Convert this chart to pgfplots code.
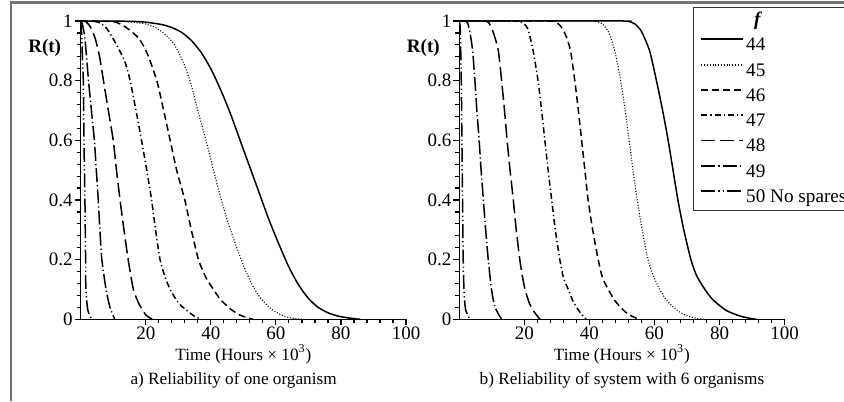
\documentclass[border=0pt]{standalone}
\usepackage{fontspec}
\setmainfont{Liberation Serif}
\usepackage{pgfplots}
\pgfplotsset{compat=1.18}

\pgfplotsset{
  relax/.style={
    scale only axis, width=162.65pt, height=149.15pt, anchor=south west,
    xmin=0, xmax=100, ymin=0, ymax=1, clip=false,
    axis lines=left, axis line style={-, line width=0.7pt},
    xtick={20,40,...,100}, ytick={0,0.2,0.4,0.6,0.8,1},
    minor x tick num=4, minor y tick num=4,
    tick align=outside, major tick length=3pt, minor tick length=2pt,
    tick style={black, line width=0.6pt},
    /pgf/number format/assume math mode=true,
    tick label style={font=\fontsize{9.5}{10}\selectfont},
    xticklabel style={inner sep=0.8pt},
    yticklabel style={inner sep=0.8pt},
    xlabel={Time (Hours × 10\textsuperscript{3})},
    every axis x label/.style={at={(rel axis cs:0.5,0)}, anchor=center, yshift=-17.6pt,
      inner sep=0pt, font=\fontsize{8.6}{10}\selectfont},
    ylabel={\textbf{R(t)}},
    every axis y label/.style={at={(rel axis cs:0,0.909)}, anchor=center, xshift=-18pt,
      font=\fontsize{9.5}{10}\selectfont},
  },
  c44/.style={black, line width=0.75pt, smooth, tension=0.4},
  c45/.style={black, line width=0.55pt, dash pattern=on 0.5pt off 0.9pt, smooth, tension=0.4},
  c46/.style={black, line width=0.75pt, dash pattern=on 3.5pt off 2pt, smooth, tension=0.4},
  c47/.style={black, line width=0.75pt, dash pattern=on 3pt off 1.5pt on 0.6pt off 1.5pt, smooth, tension=0.4},
  c48/.style={black, line width=0.75pt, dash pattern=on 7pt off 2.5pt, smooth, tension=0.4},
  c49/.style={black, line width=0.75pt, dash pattern=on 7pt off 1.5pt on 0.6pt off 1.5pt, smooth, tension=0.4},
  c50/.style={black, line width=0.75pt, dash pattern=on 7pt off 1.5pt on 0.6pt off 1.5pt on 0.6pt off 1.5pt, smooth, tension=0.4},
}

\begin{document}
\begin{tikzpicture}
\useasboundingbox (0,0) rectangle (422pt,200.5pt);
\draw[black!55, line width=1.2pt] (5.5pt,0) -- (5.5pt,199.2pt) -- (423pt,199.2pt);

% a) one organism
\begin{axis}[relax, at={(40.35pt,40.85pt)}]
  \addplot[c44] coordinates {(0,1) (15,0.999) (20,0.996) (25,0.988) (28,0.978) (31,0.962) (34,0.935) (37,0.895) (40,0.84) (43,0.77) (46,0.69) (49,0.6) (52,0.51) (55,0.42) (58,0.33) (61,0.25) (64,0.175) (67,0.115) (70,0.07) (73,0.04) (76,0.022) (79,0.011) (82,0.005) (85,0.001) (86,0)};
  \addplot[c45] coordinates {(0,1) (12,0.999) (16,0.996) (20,0.99) (23,0.978) (26,0.955) (28.5,0.925) (31,0.875) (33.6,0.8) (36,0.7) (38.5,0.6) (40.8,0.5) (43,0.41) (45,0.335) (47,0.27) (49,0.21) (51,0.155) (53,0.11) (55,0.075) (58,0.04) (61,0.018) (64,0.006) (67,0.001) (68,0)};
  \addplot[c46] coordinates {(0,1) (8,0.999) (11,0.995) (13,0.985) (15,0.97) (18,0.94) (20.5,0.89) (23.4,0.8) (25.5,0.7) (27.5,0.6) (29.5,0.5) (32,0.4) (34,0.3) (36.2,0.2) (38.5,0.14) (40.8,0.1) (43,0.066) (46,0.035) (49,0.014) (52,0.003) (53,0)};
  \addplot[c47] coordinates {(0,1) (4,0.999) (6,0.993) (8,0.975) (10,0.94) (12,0.9) (13.7,0.86) (15.2,0.8) (17,0.7) (18.7,0.6) (20.3,0.5) (21.8,0.4) (23,0.3) (24.4,0.2) (26,0.14) (27.5,0.1) (30,0.055) (32.6,0.03) (35,0.01) (37,0.001)};
  \addplot[c48] coordinates {(0,1) (1.5,0.998) (3,0.98) (4.5,0.94) (5.8,0.88) (7,0.8) (8.5,0.7) (10,0.6) (11,0.5) (12.1,0.4) (13.3,0.3) (14.6,0.2) (16.2,0.1) (18,0.05) (20,0.015) (22,0)};
  \addplot[c49] coordinates {(0,1) (0.5,0.99) (1.2,0.95) (1.8,0.88) (2.4,0.8) (3.3,0.7) (4.2,0.6) (4.8,0.5) (5.4,0.4) (5.9,0.3) (6.5,0.2) (7.8,0.1) (9,0.04) (10.5,0)};
  \addplot[c50] coordinates {(0,1) (0.3,0.95) (0.6,0.85) (0.8,0.8) (1,0.6) (1.3,0.4) (1.5,0.2) (1.6,0.1) (2.2,0.03) (3.4,0)};
  \node[font=\fontsize{8.6}{10}\selectfont] at (rel axis cs:0.47,0) [yshift=-30.3pt] {a) Reliability of one organism};
\end{axis}

% b) system with 6 organisms
\begin{axis}[relax, at={(229.65pt,40.85pt)},
    legend style={at={(rel axis cs:0.7184,1.0469)}, anchor=north west, draw=black!80,
      fill=white, inner xsep=3.5pt, inner ysep=2pt, row sep=3.65pt, column sep=1pt,
      nodes={inner sep=0pt, text height=7pt, text depth=2pt, font=\fontsize{9.6}{10}\selectfont}},
    legend cell align=left,
    legend image code/.code={\draw[#1, line width=0.9pt] (0pt,3.2pt) -- (21pt,3.2pt);}]
  \addlegendimage{empty legend}
  \addlegendentry{\hspace{4pt}\textbf{\textit{f}}}
  \addplot[c44] coordinates {(0,1) (50,1) (52,0.999) (54,0.99) (56,0.965) (58.5,0.9) (60.6,0.8) (62.5,0.7) (64.2,0.6) (65.7,0.5) (67.2,0.4) (69,0.3) (71.2,0.2) (73,0.145) (75.5,0.1) (78,0.065) (82,0.03) (86,0.012) (89,0.004) (91.3,0)};
  \addlegendentry{44}
  \addplot[c45] coordinates {(0,1) (40,1) (42,0.999) (44,0.99) (46,0.96) (47.8,0.9) (49.6,0.8) (51,0.7) (52.2,0.6) (53.4,0.5) (54.7,0.4) (56.2,0.3) (58,0.2) (59.5,0.15) (61.6,0.1) (64,0.06) (67,0.03) (70,0.012) (73,0.003) (75,0)};
  \addlegendentry{45}
  \addplot[c46] coordinates {(0,1) (27,1) (29,0.998) (31,0.985) (32.8,0.95) (34.2,0.9) (35.5,0.8) (36.6,0.7) (37.6,0.6) (38.6,0.5) (39.6,0.4) (41,0.3) (42.7,0.2) (44,0.14) (45.8,0.1) (48,0.06) (51,0.025) (53.5,0.008) (55.5,0)};
  \addlegendentry{46}
  \addplot[c47] coordinates {(0,1) (17,1) (19,0.997) (21,0.975) (22.7,0.9) (24.2,0.8) (25.3,0.7) (26.3,0.6) (27.3,0.5) (28.4,0.4) (29.5,0.3) (30.9,0.2) (32,0.14) (33.5,0.1) (35,0.06) (37,0.025) (39,0)};
  \addlegendentry{47}
  \addplot[c48] coordinates {(0,1) (7,1) (9,0.995) (10.5,0.96) (12,0.9) (13,0.8) (13.9,0.7) (14.7,0.6) (15.6,0.5) (16.6,0.4) (17.5,0.3) (18.6,0.2) (19.3,0.15) (20.2,0.1) (21.5,0.055) (23,0.025) (24.8,0)};
  \addlegendentry{48}
  \addplot[c49] coordinates {(0,1) (1.5,1) (2.5,0.995) (3.3,0.96) (4.1,0.9) (4.8,0.8) (5.4,0.7) (6.1,0.6) (6.7,0.5) (7.4,0.4) (8.1,0.3) (8.9,0.2) (9.9,0.1) (11,0.04) (13,0)};
  \addlegendentry{49}
  \addplot[c50] coordinates {(0,1) (0.3,0.97) (0.6,0.8) (0.8,0.6) (1,0.4) (1.2,0.2) (1.5,0.08) (2,0.03) (3.3,0)};
  \addlegendentry{50 No spares}
  \node[font=\fontsize{8.6}{10}\selectfont] at (rel axis cs:0.5,0) [yshift=-30.3pt] {b) Reliability of system with 6 organisms};
\end{axis}
\end{tikzpicture}
\end{document}
